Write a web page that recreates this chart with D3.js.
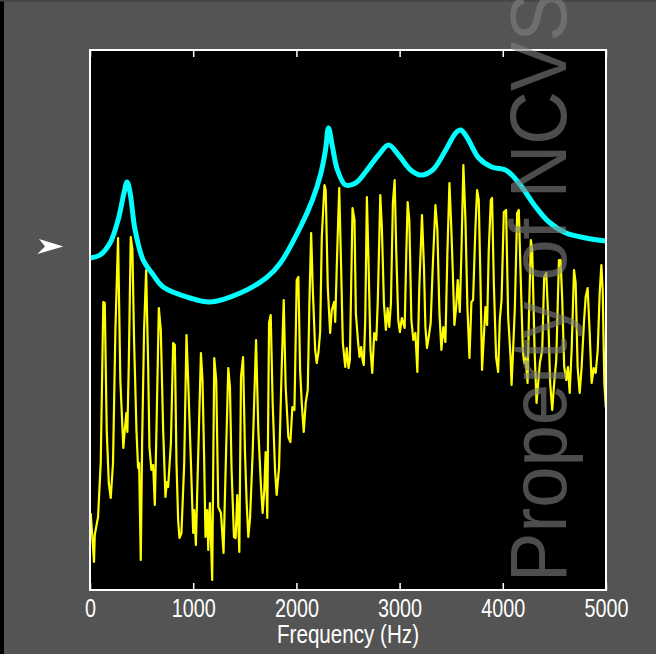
<!DOCTYPE html>
<html>
<head>
<meta charset="utf-8">
<script src="https://cdn.jsdelivr.net/npm/d3@7"></script>
<style>
  body { margin: 0; background: #545454; }
  svg { display: block; }
</style>
</head>
<body>
<div id="chart"></div>
<script>
// harmonic spectrum (yellow), frequency in Hz and level in dB
const specFreq = [7,39,46,78,104,129,143,162,182,201,223,246,272,294,311,323,337,352,362,376,395,411,427,450,466,476,492,505,524,544,563,576,595,612,628,644,667,686,709,731,745,757,784,806,822,838,854,867,886,913,935,951,978,1000,1010,1026,1042,1075,1090,1107,1119,1136,1146,1162,1184,1204,1223,1243,1269,1294,1314,1340,1356,1372,1395,1411,1427,1447,1463,1483,1502,1518,1534,1551,1576,1609,1631,1657,1673,1689,1702,1718,1735,1751,1770,1793,1809,1832,1857,1877,1896,1922,1942,1961,1981,2003,2019,2036,2052,2071,2090,2110,2126,2143,2158,2182,2197,2214,2230,2246,2272,2284,2304,2327,2343,2366,2376,2395,2415,2430,2450,2473,2488,2505,2518,2544,2563,2576,2596,2612,2628,2641,2653,2667,2683,2699,2718,2735,2754,2774,2789,2813,2828,2848,2867,2884,2900,2916,2935,2952,2968,2987,3003,3022,3049,3065,3078,3094,3114,3133,3153,3172,3191,3217,3236,3250,3265,3282,3301,3320,3347,3366,3386,3405,3424,3444,3463,3483,3498,3515,3531,3547,3563,3583,3599,3618,3638,3657,3677,3696,3712,3735,3751,3767,3784,3799,3816,3832,3848,3864,3884,3896,3913,3935,3955,3971,3988,4010,4032,4052,4075,4085,4100,4117,4139,4155,4175,4194,4207,4220,4240,4253,4272,4285,4308,4327,4343,4359,4382,4401,4421,4440,4459,4479,4498,4518,4544,4560,4576,4595,4615,4631,4648,4667,4690,4706,4725,4745,4764,4786,4803,4822,4842,4861,4881,4900,4920,4939,4955,4968,4984,4998,5000];
const specLevel = [15.4,5.6,11,14.6,25.4,57.6,57.4,32,21.4,18.4,25.4,52,70.4,42,34,28.4,32,35.4,31.6,45.4,70.6,68,50,32,24.4,25.4,6,29.4,52,64,45.4,28.6,24,25,17,32,56.4,52,32,18.6,21.6,20.6,29.4,49.4,49,25.4,14,10.4,11.4,25.4,51,42,25.4,11.4,16,9,22,47.4,42,25.4,10.6,16,8,17.4,2,46.4,42,16.6,15.4,7.4,24,44.4,40.6,24,10.6,10.4,19,7.6,42.6,46.6,27.4,17.4,10.6,14.4,27.4,50,32,20.6,15.4,20,27.6,14.4,53.4,55,37.4,24,19,24.6,44,58,40.6,30.6,29.6,36.6,36,62,62.6,44,37.4,31.6,37.4,40,57.4,71.4,60.6,48,45.4,47.6,51.6,70.6,81,80,60.6,51.4,56,57.6,53.6,67.4,80.4,67.4,49.4,44.6,48.4,44.4,46,76.4,74,55.4,50,46.6,48.6,46,45,54,78.6,65.4,48,43.4,51.4,50,58,79,72.6,57.4,52,56.4,52.6,57.4,77.4,82,67.4,54,51.6,54.4,52.4,67.4,77.6,74,54,50,51.4,43.6,60.6,75,64.6,52.6,48.4,50.6,53.4,64,77,72,55.4,48,52.6,49.6,67.4,81.4,74,64,53,56.4,62,55.6,67.4,85,74,56.6,46.4,57.6,58,72.6,80,78,61.4,44,50.6,56.6,53,68,78,78.4,61.4,46.6,43.6,54,58,75.6,76,54.6,46.6,41,48,56.6,75.4,76,61.4,48,45.4,46.6,41.4,54.6,70,68,48,37.4,41.4,45.4,48,62.6,63.4,54.6,41.4,36,41.4,46,66,66,58,44.6,42,44.6,39.4,48,64,61.4,44.6,39.4,44.6,53.4,58.6,60.4,51.4,41.4,44.4,43.4,48,59.4,65,60,41.4,36.6,48];

// smooth envelope (cyan)
const envFreq = [0,97,194,272,330,359,388,437,515,600,709,971,1165,1456,1718,1845,2039,2155,2233,2282,2311,2350,2398,2476,2573,2670,2796,2893,2990,3107,3204,3320,3447,3544,3592,3651,3767,3893,4026,4088,4185,4320,4447,4612,4806,5000];
const envLevel = [66.4,67,69.4,74,79.5,81.6,79.5,72,66,63.4,60.6,58.4,57.6,59.4,62.6,65.4,72.6,78,83,88,92.4,88.6,84,81,81.4,83.6,87,89,87,84,83,84,88,91.4,92,90.6,86.4,84.6,84,83,80.6,76.6,73.6,71.4,70.4,69.8];

const tickHz = [0, 1000, 2000, 3000, 4000, 5000];
const arrowLevel = 68.7;

const width = 656, height = 654;
const plotL = 90, plotR = 606, plotT = 50, plotB = 590;

const svg = d3.select("#chart")
  .append("svg")
  .attr("width", width)
  .attr("height", height);

svg.append("rect").attr("width", width).attr("height", height).attr("fill", "#545454");
svg.append("rect").attr("width", 4).attr("height", height).attr("fill", "#000");
svg.append("rect").attr("width", width).attr("height", 1.5).attr("fill", "#444");

const x = d3.scaleLinear().domain([0, 5000]).range([plotL, plotR]);
const y = d3.scaleLinear().domain([0, 108]).range([plotB, plotT]);

svg.append("rect")
  .attr("x", plotL).attr("y", plotT)
  .attr("width", plotR - plotL).attr("height", plotB - plotT)
  .attr("fill", "#000");

svg.append("defs").append("clipPath").attr("id", "plot")
  .append("rect")
  .attr("x", plotL).attr("y", plotT)
  .attr("width", plotR - plotL).attr("height", plotB - plotT);

const plot = svg.append("g").attr("clip-path", "url(#plot)");

const spec = d3.zip(specFreq, specLevel);
const env = d3.zip(envFreq, envLevel);

plot.append("path")
  .datum(spec)
  .attr("fill", "none")
  .attr("stroke", "#ffff00")
  .attr("stroke-width", 2.2)
  .attr("stroke-linejoin", "round")
  .attr("d", d3.line().x(d => x(d[0])).y(d => y(d[1])));

plot.append("path")
  .datum(env)
  .attr("fill", "none")
  .attr("stroke", "#00ffff")
  .attr("stroke-width", 5)
  .attr("d", d3.line().curve(d3.curveCatmullRom.alpha(0.5)).x(d => x(d[0])).y(d => y(d[1])));

// axes: ticks point inward, top and bottom
const xAxis = svg.append("g")
  .attr("transform", `translate(0,${plotB})`)
  .call(d3.axisBottom(x).tickValues(tickHz).tickFormat(d3.format("d"))
    .tickSizeInner(-7).tickSizeOuter(0).tickPadding(9));
xAxis.select(".domain").remove();
xAxis.selectAll("line").attr("stroke", "#fff").attr("stroke-width", 1.5);
xAxis.selectAll("text")
  .attr("fill", "#fff")
  .style("font-family", "'Liberation Sans', Arial, sans-serif")
  .style("font-size", "25px")
  .attr("textLength", d => String(d).length * 11)
  .attr("lengthAdjust", "spacingAndGlyphs");

const topAxis = svg.append("g")
  .attr("transform", `translate(0,${plotT})`)
  .call(d3.axisTop(x).tickValues(tickHz).tickSizeInner(-7).tickSizeOuter(0).tickFormat(""));
topAxis.select(".domain").remove();
topAxis.selectAll("line").attr("stroke", "#fff").attr("stroke-width", 1.5);

svg.append("rect")
  .attr("x", plotL).attr("y", plotT)
  .attr("width", plotR - plotL).attr("height", plotB - plotT)
  .attr("fill", "none")
  .attr("stroke", "#fff")
  .attr("stroke-width", 2);

svg.append("text")
  .attr("x", (plotL + plotR) / 2)
  .attr("y", 643)
  .attr("text-anchor", "middle")
  .attr("fill", "#fff")
  .style("font-family", "'Liberation Sans', Arial, sans-serif")
  .style("font-size", "25px")
  .attr("textLength", 142)
  .attr("lengthAdjust", "spacingAndGlyphs")
  .text("Frequency (Hz)");

// level marker arrow on the left
const ya = y(arrowLevel);
svg.append("path")
  .attr("d", `M63.3,${ya} L39,${ya - 7.4} L45,${ya} L37.3,${ya + 7.6} Z`)
  .attr("fill", "#fff");

// watermark
svg.append("text")
  .attr("transform", "translate(566,582) rotate(-90)")
  .attr("fill", "#808080")
  .attr("fill-opacity", 0.6)
  .style("font-family", "'Liberation Sans', Arial, sans-serif")
  .style("font-size", "79px")
  .attr("textLength", 590)
  .attr("lengthAdjust", "spacingAndGlyphs")
  .text("Property of NCVS");
</script>
</body>
</html>
